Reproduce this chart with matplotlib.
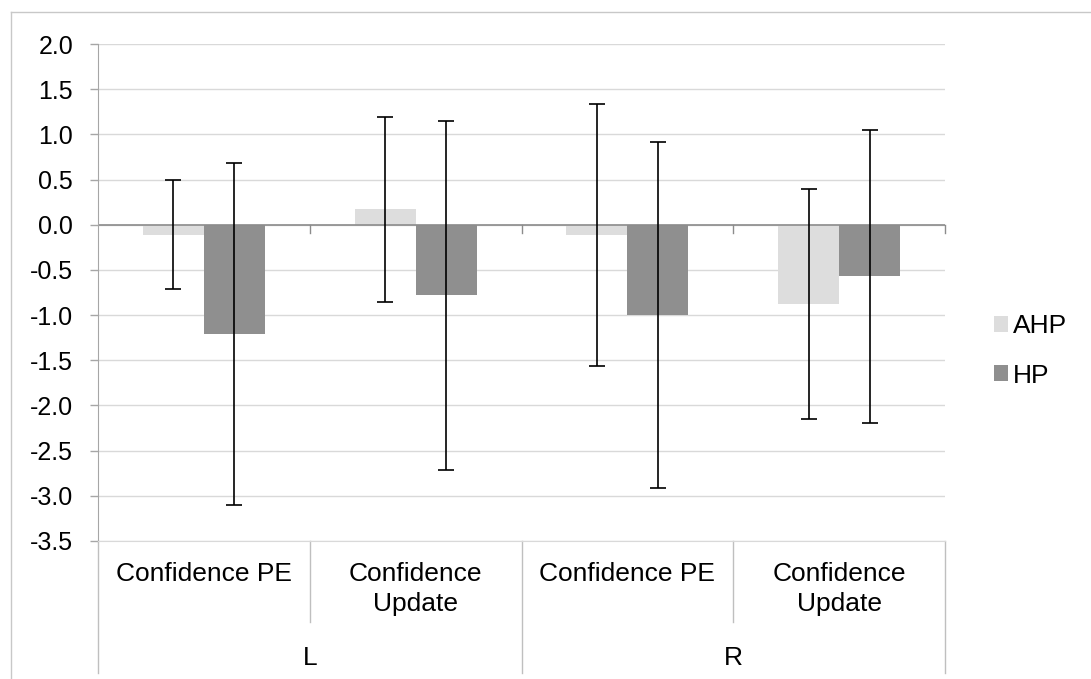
import numpy as np
import matplotlib
matplotlib.use("Agg")
import matplotlib.pyplot as plt
from matplotlib.lines import Line2D
from matplotlib.patches import Patch
import matplotlib.transforms as mtransforms

plt.rcParams["font.family"] = ["Liberation Sans", "DejaVu Sans"]
plt.rcParams["axes.unicode_minus"] = False

# data
groups = ["L", "R"]
measures = ["Confidence PE", "Confidence\nUpdate"]
series = ["AHP", "HP"]
ahp_mean = [-0.11, 0.17, -0.11, -0.88]
ahp_err = [0.60, 1.02, 1.45, 1.27]
hp_mean = [-1.21, -0.78, -1.00, -0.57]
hp_err = [1.89, 1.93, 1.91, 1.62]
yticks = np.arange(-3.5, 2.01, 0.5)

colors = {"AHP": "#dddddd", "HP": "#8f8f8f"}
FS = 18      # y tick labels
FS_CAT = 19  # category labels / legend
W, H = 1091, 679
AX_H = 541 - 44  # plot height in px

fig = plt.figure(figsize=(W / 100, H / 100), dpi=100)
ax = fig.add_axes([98 / W, (H - 541) / H, (945 - 98) / W, AX_H / H])

n = len(ahp_mean)
x = np.arange(n)
bw = 0.288
ax.bar(x - bw / 2, ahp_mean, bw, color=colors["AHP"], zorder=2)
ax.bar(x + bw / 2, hp_mean, bw, color=colors["HP"], zorder=2)
for off, m, e in [(-bw / 2, ahp_mean, ahp_err), (bw / 2, hp_mean, hp_err)]:
    ax.errorbar(x + off, m, yerr=e, fmt="none", ecolor="black", elinewidth=1.2,
                capsize=5.5, capthick=1.2, zorder=3)

ax.set_xlim(-0.5, n - 0.5)
ax.set_ylim(yticks[0], yticks[-1])
ax.set_yticks(yticks)
ax.set_yticklabels([f"{v:.1f}" for v in yticks], fontsize=FS)
ax.tick_params(axis="y", length=6, width=1, color="#a6a6a6", pad=12)
ax.tick_params(axis="x", bottom=False, labelbottom=False)
ax.grid(axis="y", color="#d9d9d9", lw=1, zorder=0)
ax.set_axisbelow(True)
for s in ["top", "right"]:
    ax.spines[s].set_visible(False)
ax.spines["left"].set_color("#a6a6a6")
ax.spines["bottom"].set_color("#d9d9d9")

# zero axis with boundary ticks
ax.axhline(0, color="#8c8c8c", lw=1.2, zorder=2.5)
tr0 = mtransforms.blended_transform_factory(ax.transData, ax.transAxes)
zero_ax = (0 - yticks[0]) / (yticks[-1] - yticks[0])
for b in np.arange(0.5, n, 1.0):
    ax.plot([b, b], [zero_ax, zero_ax - 8 / AX_H], color="#8c8c8c", lw=1,
            transform=tr0, clip_on=False, zorder=2.5)

# two-level category axis
sep_col = "#bfbfbf"
for b in np.arange(-0.5, n, 1.0):
    long_line = (b + 0.5) % len(measures) == 0
    y1 = -132 / AX_H if long_line else -81 / AX_H
    ax.plot([b, b], [0, y1], color=sep_col, lw=1, transform=tr0, clip_on=False)

for i in range(n):
    ax.text(x[i], -21 / AX_H, measures[i % len(measures)], transform=tr0,
            ha="center", va="top", fontsize=FS_CAT, linespacing=1.34)
for g, name in enumerate(groups):
    xc = g * len(measures) + (len(measures) - 1) / 2
    ax.text(xc, -117 / AX_H, name, transform=tr0, ha="center", va="center",
            fontsize=FS_CAT)

# legend
handles = [Patch(facecolor=colors[s], edgecolor="none", label=s) for s in series]
fig.legend(handles=handles, loc="center left", bbox_to_anchor=(994 / W, 1 - 351 / H),
           frameon=False, fontsize=FS_CAT, handlelength=0.52, handleheight=0.52,
           handletextpad=0.2, labelspacing=0.95, borderpad=0, borderaxespad=0)

# chart-area border (top and left edges visible)
fig.add_artist(Line2D([11 / W, 11 / W], [0, 1 - 12 / H], color="#c8c8c8", lw=1,
                      transform=fig.transFigure))
fig.add_artist(Line2D([11 / W, 1], [1 - 12 / H, 1 - 12 / H], color="#c8c8c8", lw=1,
                      transform=fig.transFigure))

fig.savefig("out.png", dpi=100)
